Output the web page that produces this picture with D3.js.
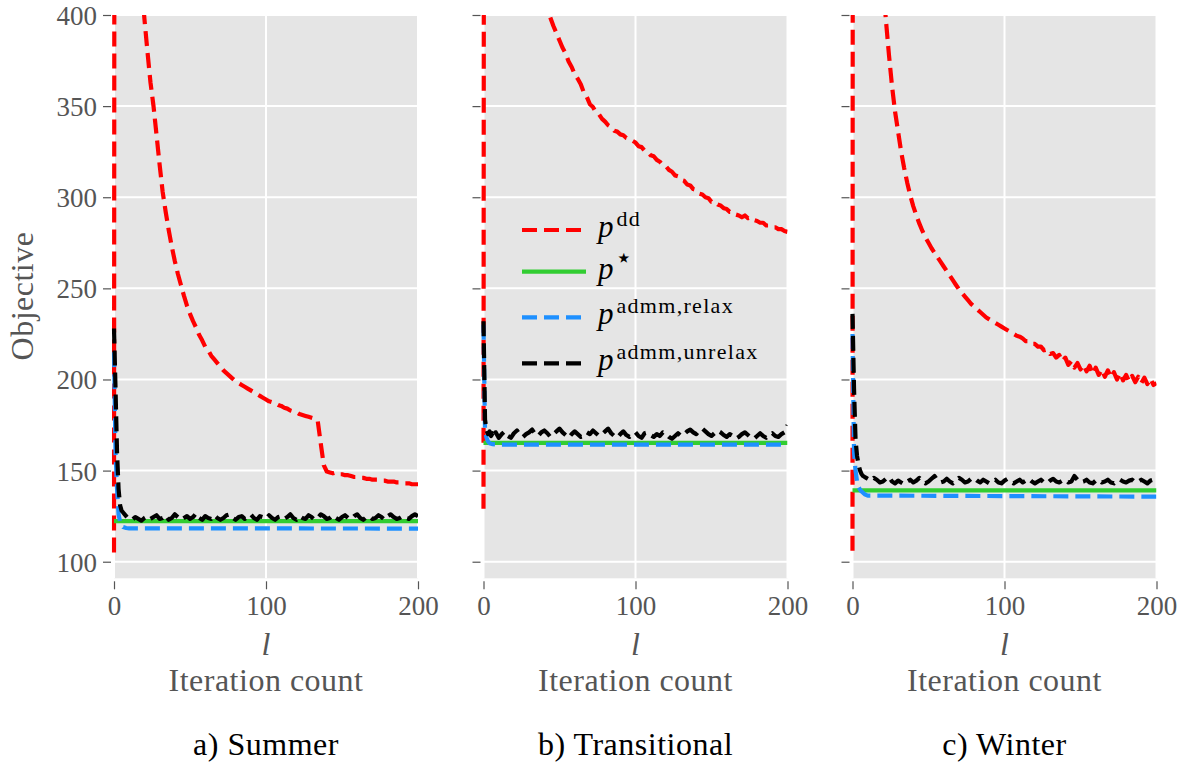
<!DOCTYPE html>
<html>
<head>
<meta charset="utf-8">
<script src="https://cdn.jsdelivr.net/npm/d3@7"></script>
<style>
  body { margin: 0; background: #fff; }
  text { font-family: "Liberation Serif", "Times New Roman", serif; }
</style>
</head>
<body>
<svg id="chart" width="1188" height="762"></svg>
<script>
/* ─────────────────────────────────────────
   Data
───────────────────────────────────────── */

// iteration index used by the dd / unrelaxed series
const iters = [0, 1, 2, 3, 4, 5, 6, 7, 8, 9, 10,
  12, 14, 16, 18, 20, 22, 24, 26, 28, 30,
  32, 34, 36, 38, 40, 42, 44, 46, 48, 50,
  52, 54, 56, 58, 60, 62, 64, 66, 68, 70,
  72, 74, 76, 78, 80, 82, 84, 86, 88, 90,
  92, 94, 96, 98, 100, 102, 104, 106, 108, 110,
  112, 114, 116, 118, 120, 122, 124, 126, 128, 130,
  132, 134, 136, 138, 140, 142, 144, 146, 148, 150,
  152, 154, 156, 158, 160, 162, 164, 166, 168, 170,
  172, 174, 176, 178, 180, 182, 184, 186, 188, 190,
  192, 194, 196, 198, 200];

// index used by the relaxed ADMM series (flat after ~10 iterations)
const itersRelax = [0, 1, 2, 3, 4, 5, 6, 8, 10, 200];
const itersOpt   = [0, 200];

const panels   = ['Summer', 'Transitional', 'Winter'];
const captions = ['a) Summer', 'b) Transitional', 'c) Winter'];

const yTicks = [100, 150, 200, 250, 300, 350, 400];
const xTicks = [0, 100, 200];

/* Summer */
const ddSummer = [105, 1600, 1300, 1100, 950, 850, 770, 700, 650, 610, 575,
  520, 475, 445, 420, 398, 380, 363, 350, 334, 318,
  303, 292, 282, 273, 265, 258, 252, 246, 240.5, 236,
  232, 228.5, 224.5, 221.5, 218, 216, 213, 211, 209, 207,
  205, 203.5, 202, 200.5, 199, 198, 197, 196, 195, 194,
  193, 192, 191, 190, 189, 188, 187.5, 187, 186, 185.5,
  184.5, 184, 183, 182.5, 182, 181, 180.5, 180, 179.5, 179,
  178.5, 177.5, 165, 153, 149.5, 149, 148.5, 149, 148, 148,
  147.5, 147.5, 147, 146.5, 146.5, 146, 146, 145.5, 145.5, 145,
  145, 145, 144.5, 144.5, 144, 144, 144, 143.5, 143.5, 143,
  143, 143, 142.5, 142.5, 142.5];
const optSummer   = [122.3, 122.3];
const relaxSummer = [215, 160, 140, 126, 122, 120, 119, 118.5, 118.3, 118.2];
const unrelaxSummer = [228, 195, 160, 140, 131, 128, 127, 126, 125, 124, 123.5,
  123, 124.5, 123.5, 122.5, 124, 125, 123.5, 124.5, 125.5, 123.5,
  124, 125.5, 123, 124, 126, 124.5, 123, 124, 125, 123.5,
  124.5, 126.5, 124, 123, 125, 124, 123.5, 125.5, 124, 123,
  124, 125.5, 126, 124, 123, 124.5, 125, 123.5, 124.5, 126,
  124, 123, 125, 124.5, 123.5, 125.5, 124, 123, 124.5, 125,
  123.5, 124.5, 126, 124, 123, 125, 124, 123.5, 125.5, 124.5,
  123, 124, 126, 125, 123.5, 124, 125.5, 124, 123, 124.5,
  125.5, 124, 123.5, 125, 126, 124, 123, 124.5, 125, 123.5,
  124, 125.5, 124.5, 123, 125, 126, 124.5, 123.5, 124, 125,
  124, 123.5, 125, 126, 125];

/* Transitional */
const ddTransitional = [129, 1500, 1200, 1050, 950, 880, 820, 780, 740, 700, 670,
  640, 600, 568, 540, 517, 497, 480, 465, 451, 440,
  430, 424, 418, 413, 408, 403, 398.5, 394, 390, 386,
  382, 379, 374.5, 371.5, 367.5, 365, 362, 357.5, 355, 351,
  349.5, 346.5, 345.5, 343, 341.5, 339.5, 338.5, 336.5, 336, 334.5,
  334, 332.5, 332, 331, 330, 328, 327.5, 325.5, 325, 323,
  322.5, 320.5, 319.5, 317.5, 317, 315, 314, 312, 311.5, 309.5,
  309, 307, 306.5, 304.5, 304, 302, 301.5, 300, 299.5, 297.5,
  297.5, 296, 295.5, 294, 293.5, 292, 292, 290.5, 290, 289,
  290, 288.5, 289, 287.5, 287, 286, 286, 284.5, 284.5, 283.5,
  283.5, 282.5, 282.5, 281.5, 281];
const optTransitional   = [165.2, 165.2];
const relaxTransitional = [230, 172, 168, 166, 165, 164.7, 164.5, 164.4, 164.3, 164.2];
const unrelaxTransitional = [232, 178, 172, 170, 171.5, 169, 170.5, 168.5, 171, 169.5, 168,
  170, 171.5, 169, 168, 170.5, 172, 169.5, 168.5, 170, 171,
  172.5, 170, 169, 171, 172, 170.5, 168.5, 170, 171.5, 173,
  171, 169.5, 168, 170, 171.5, 170, 168.5, 169, 171, 170,
  172, 170.5, 169, 170, 171.5, 173, 170.5, 169, 168, 170,
  171.5, 169.5, 168.5, 170, 171, 169, 168, 170.5, 171, 169.5,
  168.5, 170, 169, 171, 170, 168.5, 167.5, 169, 170.5, 169,
  170, 171.5, 172.5, 171, 170, 172, 173, 171.5, 170, 169,
  170.5, 172, 171, 169.5, 168.5, 170, 169, 167.5, 168.5, 170,
  171, 169.5, 168, 167.5, 169, 170.5, 169, 168, 169.5, 170.5,
  169, 168.5, 170, 171, 175];

/* Winter */
const ddWinter = [106, 2200, 1600, 1300, 1100, 950, 840, 760, 700, 640, 590,
  540, 500, 470, 442, 418, 397, 378, 361, 347, 336,
  325, 316, 308, 301, 295, 290, 285.5, 281.5, 278, 275,
  272, 269.5, 267, 264.5, 262, 259.5, 257, 254.5, 252, 249.5,
  247.5, 245.5, 243.5, 241.5, 240, 238.5, 237, 235.5, 234, 233,
  232, 231, 230, 229, 228, 227, 226, 225, 224, 223.5,
  222.5, 221, 221, 219.5, 219.5, 218, 218, 216, 216.5, 214,
  214.5, 212, 213.5, 210, 212, 208, 210, 206.5, 209, 205.5,
  208, 204.5, 207.5, 203, 206.5, 202.5, 205.5, 201.5, 205, 201,
  204, 200, 203.5, 199.5, 202.5, 199, 202, 198.5, 201.5, 198,
  201, 197.5, 200.5, 197, 198];
const optWinter   = [139.2, 139.2];
const relaxWinter = [225, 160, 150, 144, 141, 139.5, 138.5, 137, 136.3, 135.7];
const unrelaxWinter = [236, 195, 167, 158, 153, 150, 148, 147, 146.5, 146, 145.5,
  144.5, 146, 145, 143.5, 144, 145.5, 146.5, 144, 143, 144.5,
  143.5, 142.5, 144, 145, 143.5, 144.5, 146, 144, 143, 144,
  145.5, 147, 144.5, 143.5, 144, 145.5, 144, 143, 144.5, 146,
  145, 143.5, 144, 145.5, 146, 144.5, 143.5, 145, 144, 143,
  144, 145, 143.5, 143, 144.5, 145.5, 144, 143, 144, 145,
  143.5, 144.5, 145.5, 144, 143, 144, 145, 143.5, 143, 144.5,
  145.5, 144, 143.5, 144.5, 145, 143.5, 144, 147, 145, 143.5,
  144, 145, 143.5, 143, 144.5, 145, 143.5, 144, 145, 143.5,
  143, 144.5, 145, 144, 143.5, 144.5, 145, 143.5, 144, 145,
  144, 143, 144.5, 145, 144];

const ddSeries      = [ddSummer, ddTransitional, ddWinter];
const optSeries     = [optSummer, optTransitional, optWinter];
const relaxSeries   = [relaxSummer, relaxTransitional, relaxWinter];
const unrelaxSeries = [unrelaxSummer, unrelaxTransitional, unrelaxWinter];

/* ─────────────────────────────────────────
   Layout / style
───────────────────────────────────────── */

const CFG = {
  panelX:   [114, 483.5, 852.5],
  panelW:   304,
  top:      15,
  bottom:   578.3,
  yLim:     [90.9, 400],
  xLim:     [0, 200],
  bg:       '#e5e5e5',
  grey:     '#555555',
  serif:    '"Liberation Serif", "Times New Roman", serif',
  tickFont: 27,
  font:     32,
  lw:       4.2,
  dash:     '15,7',
  clipPad:  2.5,   // lines at l = 0 keep their full width
};

const STYLE = {
  dd:      { color: '#ff0000', dash: true },
  opt:     { color: '#32cd32', dash: false },
  relax:   { color: '#1e90ff', dash: true },
  unrelax: { color: '#000000', dash: true },
};

const svg = d3.select('#chart');

const y = d3.scaleLinear().domain(CFG.yLim).range([CFG.bottom, CFG.top]);

// shared text helper for labels
function label(sel, x, yPos, str, { color = CFG.grey, italic = false, anchor = 'middle' } = {}) {
  return sel.append('text')
    .attr('x', x).attr('y', yPos)
    .attr('text-anchor', anchor)
    .attr('fill', color)
    .style('font-family', CFG.serif)
    .style('font-size', CFG.font + 'px')
    .style('font-style', italic ? 'italic' : 'normal')
    .style('letter-spacing', italic ? '0px' : '0.5px')
    .text(str);
}

/* ─────────────────────────────────────────
   Panels
───────────────────────────────────────── */

panels.forEach((name, i) => {
  const x0 = CFG.panelX[i];
  const x = d3.scaleLinear().domain(CFG.xLim).range([x0, x0 + CFG.panelW]);
  const g = svg.append('g');

  // background
  g.append('rect')
    .attr('x', x0).attr('y', CFG.top)
    .attr('width', CFG.panelW).attr('height', CFG.bottom - CFG.top)
    .attr('fill', CFG.bg);

  // grid
  g.append('g').selectAll('line')
    .data(yTicks).join('line')
    .attr('x1', x0).attr('x2', x0 + CFG.panelW)
    .attr('y1', d => y(d)).attr('y2', d => y(d))
    .attr('stroke', '#fff').attr('stroke-width', 2);
  g.append('g').selectAll('line')
    .data(xTicks).join('line')
    .attr('y1', CFG.top).attr('y2', CFG.bottom)
    .attr('x1', d => x(d)).attr('x2', d => x(d))
    .attr('stroke', '#fff').attr('stroke-width', 2);

  // axes (tick marks only, grey labels)
  const yAxis = d3.axisLeft(y).tickValues(yTicks).tickSize(8).tickPadding(6)
    .tickFormat(i === 0 ? d3.format('d') : () => '');
  const ya = g.append('g').attr('transform', `translate(${x0 - 3},0)`).call(yAxis);
  const xAxis = d3.axisBottom(x).tickValues(xTicks).tickSize(8).tickPadding(7)
    .tickFormat(d3.format('d'));
  const xa = g.append('g').attr('transform', `translate(0,${CFG.bottom + 3})`).call(xAxis);

  [ya, xa].forEach(a => {
    a.attr('font-family', null).attr('font-size', null);
    a.select('.domain').remove();
    a.selectAll('line').attr('stroke', CFG.grey).attr('stroke-width', 1.2);
    a.selectAll('text')
      .attr('fill', CFG.grey)
      .style('font-size', CFG.tickFont + 'px')
      .style('font-family', CFG.serif);
  });
  ya.selectAll('text').attr('dy', '0.35em');

  // clip
  const clipId = `clip-${i}`;
  svg.append('clipPath').attr('id', clipId)
    .append('rect')
    .attr('x', x0 - CFG.clipPad).attr('y', CFG.top)
    .attr('width', CFG.panelW + CFG.clipPad).attr('height', CFG.bottom - CFG.top);

  const line = d3.line().x(d => x(d[0])).y(d => y(d[1]));
  const plot = g.append('g').attr('clip-path', `url(#${clipId})`);

  const series = [
    ['dd',      iters,      ddSeries[i]],
    ['opt',     itersOpt,   optSeries[i]],
    ['relax',   itersRelax, relaxSeries[i]],
    ['unrelax', iters,      unrelaxSeries[i]],
  ];

  series.forEach(([key, xs, ys]) => {
    const st = STYLE[key];
    plot.append('path')
      .datum(d3.zip(xs, ys))
      .attr('d', line)
      .attr('fill', 'none')
      .attr('stroke', st.color)
      .attr('stroke-width', CFG.lw)
      .attr('stroke-linejoin', 'round')
      .attr('stroke-dasharray', st.dash ? CFG.dash : null);
  });

  // x labels
  const cx = x0 + CFG.panelW / 2;
  label(g, cx, 655, 'l', { italic: true });
  label(g, cx, 691, 'Iteration count');
  label(g, cx, 755, captions[i], { color: '#000' });
});

// y label
label(svg, 0, 0, 'Objective')
  .attr('transform', 'translate(33,296) rotate(-90)');

/* ─────────────────────────────────────────
   Legend (middle panel)
───────────────────────────────────────── */

const legendItems = [
  { key: 'dd',      sup: 'dd',           y: 230 },
  { key: 'opt',     sup: '⋆',            y: 271.7 },
  { key: 'relax',   sup: 'admm,relax',   y: 317.3 },
  { key: 'unrelax', sup: 'admm,unrelax', y: 363.3 },
];

const leg = svg.append('g');
legendItems.forEach(it => {
  const st = STYLE[it.key];
  leg.append('line')
    .attr('x1', 522).attr('x2', 586)
    .attr('y1', it.y).attr('y2', it.y)
    .attr('stroke', st.color)
    .attr('stroke-width', CFG.lw)
    .attr('stroke-dasharray', st.dash ? CFG.dash : null);

  const t = leg.append('text')
    .attr('x', 598).attr('y', it.y + 7)
    .attr('fill', '#000')
    .style('font-family', CFG.serif)
    .style('font-size', '31px');
  t.append('tspan').style('font-style', 'italic').text('p');
  const isStar = it.key === 'opt';
  t.append('tspan')
    .attr('dx', isStar ? 1 : 3).attr('dy', isStar ? -12 : -11)
    .style('font-size', isStar ? '28px' : '22px')
    .style('letter-spacing', isStar ? '0px' : '1.3px')
    .style('font-family', isStar ? '"DejaVu Serif", serif' : CFG.serif)
    .text(it.sup);
});
</script>
</body>
</html>
